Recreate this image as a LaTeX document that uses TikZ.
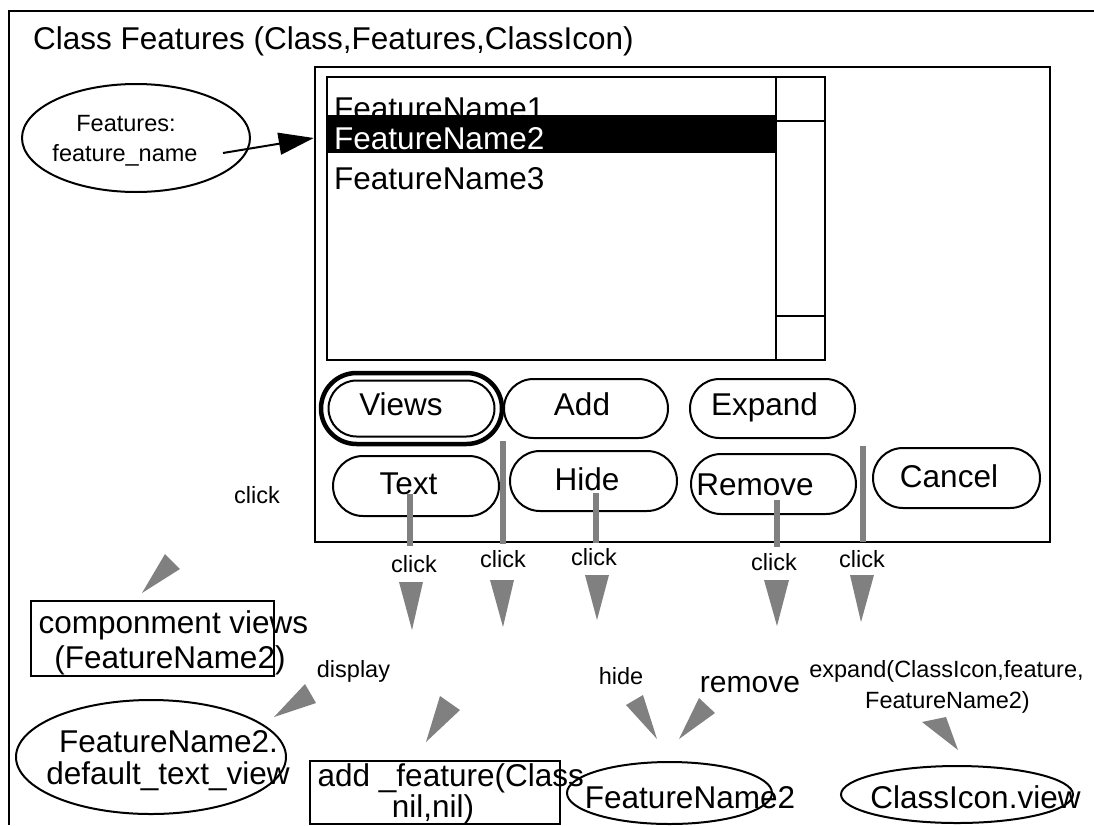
\documentclass[tikz,border=0pt]{standalone}
\usepackage{fontspec}
\setmainfont{Liberation Sans}
\usetikzlibrary{shapes.geometric,shapes.misc,arrows.meta}
\begin{document}
\begin{tikzpicture}[x=1pt,y=-1pt,
  smalltxt/.style={inner sep=0pt, font=\fontsize{23.5}{26}\selectfont},
  bigtxt/.style={inner sep=0pt, font=\fontsize{31.5}{35}\selectfont},
  btn/.style={rounded rectangle, draw, line width=2pt, inner sep=0pt},
  greybar/.style={fill=black!50, draw=none},
  greytri/.style={fill=black!50, draw=none},
  boxline/.style={draw, line width=2pt, inner sep=0pt},
  ell/.style={ellipse, draw, line width=2pt, inner sep=0pt}
]
\useasboundingbox (0,0) rectangle (1094,825);
% outer frame
\draw[line width=2pt] (1094,11) -- (9,11) -- (9,825);
\node[bigtxt, anchor=base west] (title) at (33,49) {Class Features (Class,Features,ClassIcon)};
% window
\node[boxline, line width=2.5pt, minimum width=735, minimum height=475] (win) at (682.5,304.5) {};
% list box
\node[boxline, minimum width=449, minimum height=283] (list) at (551.5,218.5) {};
\node[bigtxt, anchor=base west] (fn1) at (334,119) {FeatureName1};
\fill (327,115) rectangle (776,153);
\node[bigtxt, anchor=base west, text=white] (fn2) at (334,149) {FeatureName2};
\node[bigtxt, anchor=base west] (fn3) at (334,189) {FeatureName3};
\node[boxline, minimum width=49, minimum height=283] (scroll) at (800.5,218.5) {};
\draw[line width=2pt] (scroll.west |- 0,121) -- (scroll.east |- 0,121);
\draw[line width=2pt] (scroll.west |- 0,316) -- (scroll.east |- 0,316);
% buttons
\node[btn, line width=4.5pt, minimum width=181, minimum height=71] (viewsout) at (411.5,408.5) {};
\node[btn, minimum width=166, minimum height=56] (views) at (411.5,408.5) {};
\node[bigtxt, anchor=base] (viewst) at (401,415) {Views};
\node[btn, minimum width=164, minimum height=59] (add) at (586,408.5) {};
\node[bigtxt, anchor=base] (addt) at (582,415) {Add};
\node[btn, minimum width=165, minimum height=59] (expand) at (772.5,408.5) {};
\node[bigtxt, anchor=base] (expandt) at (764.5,415) {Expand};
\node[btn, minimum width=166, minimum height=60] (text) at (416,486) {};
\node[bigtxt, anchor=base] (textt) at (408.5,494) {Text};
\node[btn, minimum width=167, minimum height=60] (hide) at (593.5,481) {};
\node[bigtxt, anchor=base] (hidet) at (587,490) {Hide};
\node[btn, minimum width=165, minimum height=60] (remove) at (773.5,484) {};
\node[bigtxt, anchor=base] (removet) at (755,495) {Remove};
\node[btn, minimum width=167, minimum height=60] (cancel) at (956.5,478) {};
\node[bigtxt, anchor=base] (cancelt) at (949,487) {Cancel};
% grey bars
\fill[greybar] (407,494) rectangle (413,546);
\fill[greybar] (500,441) rectangle (505.5,544);
\fill[greybar] (593,493) rectangle (598.5,543);
\fill[greybar] (774,500) rectangle (779.5,547);
\fill[greybar] (859.5,446) rectangle (865.5,542);
% click labels
\node[smalltxt, anchor=base] (c1) at (414,572) {click};
\node[smalltxt, anchor=base] (c2) at (503,567) {click};
\node[smalltxt, anchor=base] (c3) at (594,565) {click};
\node[smalltxt, anchor=base] (c4) at (774,570) {click};
\node[smalltxt, anchor=base] (c5) at (862,567) {click};
\node[smalltxt, anchor=base] (c0) at (257,503) {click};
% grey arrowheads
\fill[greytri] (399,582) -- (423,582) -- (412,630) -- cycle;
\fill[greytri] (490,580) -- (514,580) -- (503,627) -- cycle;
\fill[greytri] (585,575) -- (609,575) -- (597,620) -- cycle;
\fill[greytri] (764,580) -- (789,580) -- (777,626) -- cycle;
\fill[greytri] (850,575) -- (874,575) -- (861,622) -- cycle;
\fill[greytri] (165,554) -- (180,569) -- (142,593) -- cycle;
\fill[greytri] (305,684) -- (316,703) -- (274,717) -- cycle;
\fill[greytri] (440,696) -- (460,710) -- (426,742) -- cycle;
\fill[greytri] (626,705) -- (643,695) -- (657,739) -- cycle;
\fill[greytri] (699,698) -- (715,713) -- (679,739) -- cycle;
\fill[greytri] (922,722) -- (946,717) -- (958,750) -- cycle;
% features ellipse
\node[ell, minimum width=228, minimum height=108] (feat) at (136,138) {};
\node[smalltxt, anchor=base] (featt1) at (126,131) {Features:};
\node[smalltxt, anchor=base] (featt2) at (125,161) {feature\_name};
\coordinate (arrs) at (223,153);
\draw[line width=2pt, -{Triangle[length=35pt,width=22pt]}] (arrs) -- (win.west |- 0,138);
% bottom left
\node[boxline, minimum width=243, minimum height=75, anchor=north west] (comp) at (30,600) {};
\node[bigtxt, anchor=base] (compt1) at (173.5,633) {componment views};
\node[bigtxt, anchor=base] (compt2) at (170,668) {(FeatureName2)};
\node[smalltxt, anchor=base] (disp) at (353.5,677) {display};
\node[ell, minimum width=270, minimum height=114] (deftv) at (151,757) {};
\node[bigtxt, anchor=base] (deft1) at (168.5,752) {FeatureName2.};
\node[bigtxt, anchor=base] (deft2) at (168,784) {default\_text\_view};
% add feature box
\node[boxline, minimum width=250, minimum height=63, anchor=north west] (addf) at (309,760) {};
\node[bigtxt, anchor=base west] (addft1) at (317.5,786) {add \_feature(Class};
\node[bigtxt, anchor=base] (addft2) at (433,817) {nil,nil)};
% hide / remove labels
\node[smalltxt, anchor=base] (hidel) at (621,684) {hide};
\node[inner sep=0pt, font=\fontsize{30}{33}\selectfont, anchor=base] (reml) at (750,692) {remove};
\node[smalltxt, anchor=base] (expl1) at (946.5,677) {expand(ClassIcon,feature,};
\node[smalltxt, anchor=base] (expl2) at (947.5,708) {FeatureName2)};
% bottom ellipses
\node[ell, minimum width=205, minimum height=62] (fn2e) at (669.5,793) {};
\node[bigtxt, anchor=base] (fn2et) at (690,808) {FeatureName2};
\node[ell, minimum width=232, minimum height=57] (cie) at (957,794.5) {};
\node[bigtxt, anchor=base] (ciet) at (975.5,808) {ClassIcon.view};
\end{tikzpicture}
\end{document}
